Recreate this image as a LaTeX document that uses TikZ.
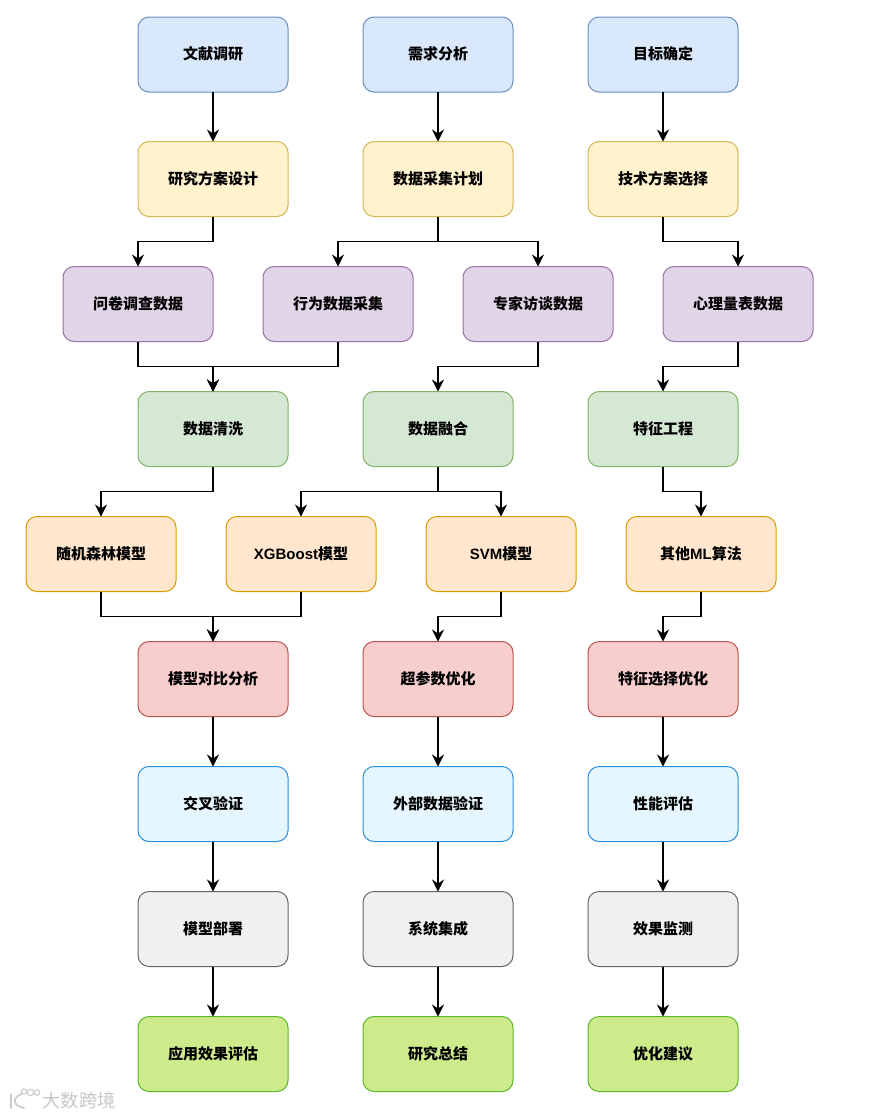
\documentclass[tikz,border=0pt]{standalone}
\usepackage{fontspec}
\setmainfont{Liberation Sans}
\newfontfamily\cjk{Noto Sans CJK SC}
\usetikzlibrary{arrows.meta,calc}
\definecolor{bluef}{HTML}{DAE8FC}\definecolor{bluel}{HTML}{6C8EBF}
\definecolor{yelf}{HTML}{FFF2CC}\definecolor{yell}{HTML}{D6B656}
\definecolor{purf}{HTML}{E1D5E7}\definecolor{purl}{HTML}{9673A6}
\definecolor{grnf}{HTML}{D5E8D4}\definecolor{grnl}{HTML}{82B366}
\definecolor{orgf}{HTML}{FFE6CC}\definecolor{orgl}{HTML}{D79B00}
\definecolor{redf}{HTML}{F8CECC}\definecolor{redl}{HTML}{B85450}
\definecolor{cyaf}{HTML}{E6F6FF}\definecolor{cyal}{HTML}{2A8FDC}
\definecolor{gryf}{HTML}{F0F0F0}\definecolor{gryl}{HTML}{666666}
\definecolor{limf}{HTML}{CDEB8B}\definecolor{liml}{HTML}{5DB82B}
\tikzset{
  x=1pt,y=-1pt,
  card/.style={draw,rounded corners=11pt,minimum width=150pt,minimum height=75pt,
    inner sep=0pt,outer sep=0pt,line width=1pt,align=center,
    text height=13pt,text depth=2.6pt,
    font=\fontsize{15}{18}\selectfont\cjk\bfseries},
  blue/.style={card,fill=bluef,draw=bluel},
  yel/.style={card,fill=yelf,draw=yell},
  pur/.style={card,fill=purf,draw=purl},
  grn/.style={card,fill=grnf,draw=grnl},
  org/.style={card,fill=orgf,draw=orgl},
  redb/.style={card,fill=redf,draw=redl},
  cya/.style={card,fill=cyaf,draw=cyal},
  gry/.style={card,fill=gryf,draw=gryl},
  lim/.style={card,fill=limf,draw=liml},
  arr/.style={draw=black,line width=1.1pt,-{Stealth[length=12pt,width=12pt,inset=4pt]}},
  wm/.style={inner sep=0pt,text=black!22,font=\fontsize{18.2}{18}\selectfont\cjk},
}
\newcommand{\lat}[1]{{\fontspec{Liberation Sans}\bfseries #1}}
\newcommand{\elbow}[2]{\draw[arr] (#1.south) -- ($(#1.south)+(0,25)$) -| (#2.north);}
\newcommand{\straight}[2]{\draw[arr] (#1.south) -- (#2.north);}
\begin{document}
\begin{tikzpicture}
\useasboundingbox (0,0) rectangle (877,1117);
\fill[white] (0,0) rectangle (877,1117);
% row 1
\node[blue] (a1) at (213,54.5) {文献调研};
\node[blue] (a2) at (438,54.5) {需求分析};
\node[blue] (a3) at (663,54.5) {目标确定};
% row 2
\node[yel] (b1) at (213,179) {研究方案设计};
\node[yel] (b2) at (438,179) {数据采集计划};
\node[yel] (b3) at (663,179) {技术方案选择};
% row 3
\node[pur] (c1) at (138,304) {问卷调查数据};
\node[pur] (c2) at (338,304) {行为数据采集};
\node[pur] (c3) at (538,304) {专家访谈数据};
\node[pur] (c4) at (738,304) {心理量表数据};
% row 4
\node[grn] (d1) at (213,429) {数据清洗};
\node[grn] (d2) at (438,429) {数据融合};
\node[grn] (d3) at (663,429) {特征工程};
% row 5
\node[org] (e1) at (101,554) {随机森林模型};
\node[org] (e2) at (301,554) {\lat{XGBoost}模型};
\node[org] (e3) at (501,554) {\lat{SVM}模型};
\node[org] (e4) at (701,554) {其他\lat{ML}算法};
% row 6
\node[redb] (f1) at (213,679) {模型对比分析};
\node[redb] (f2) at (438,679) {超参数优化};
\node[redb] (f3) at (663,679) {特征选择优化};
% row 7
\node[cya] (g1) at (213,804) {交叉验证};
\node[cya] (g2) at (438,804) {外部数据验证};
\node[cya] (g3) at (663,804) {性能评估};
% row 8
\node[gry] (h1) at (213,929) {模型部署};
\node[gry] (h2) at (438,929) {系统集成};
\node[gry] (h3) at (663,929) {效果监测};
% row 9
\node[lim] (i1) at (213,1054) {应用效果评估};
\node[lim] (i2) at (438,1054) {研究总结};
\node[lim] (i3) at (663,1054) {优化建议};
% connectors
\straight{a1}{b1}\straight{a2}{b2}\straight{a3}{b3}
\elbow{b1}{c1}\elbow{b2}{c2}\elbow{b2}{c3}\elbow{b3}{c4}
\elbow{c1}{d1}\elbow{c2}{d1}\elbow{c3}{d2}\elbow{c4}{d3}
\elbow{d1}{e1}\elbow{d2}{e2}\elbow{d2}{e3}\elbow{d3}{e4}
\elbow{e1}{f1}\elbow{e2}{f1}\elbow{e3}{f2}\elbow{e4}{f3}
\straight{f1}{g1}\straight{f2}{g2}\straight{f3}{g3}
\straight{g1}{h1}\straight{g2}{h2}\straight{g3}{h3}
\straight{h1}{i1}\straight{h2}{i2}\straight{h3}{i3}
% watermark
\node[wm,anchor=west] (wmt) at (42.5,1100.5) {大数跨境};
\draw[black!20,line width=1.8pt,line cap=round,line join=round] (11,1094) -- (11,1108) (22,1094) .. controls (15,1096) and (14,1101) .. (15,1102) .. controls (16,1105) and (19,1107) .. (24,1108);
\draw[black!20,line width=1.1pt] (24,1091.5) circle (2.6pt) (30.5,1092.5) circle (3.2pt) (37,1092.5) circle (2.8pt);
\end{tikzpicture}
\end{document}
